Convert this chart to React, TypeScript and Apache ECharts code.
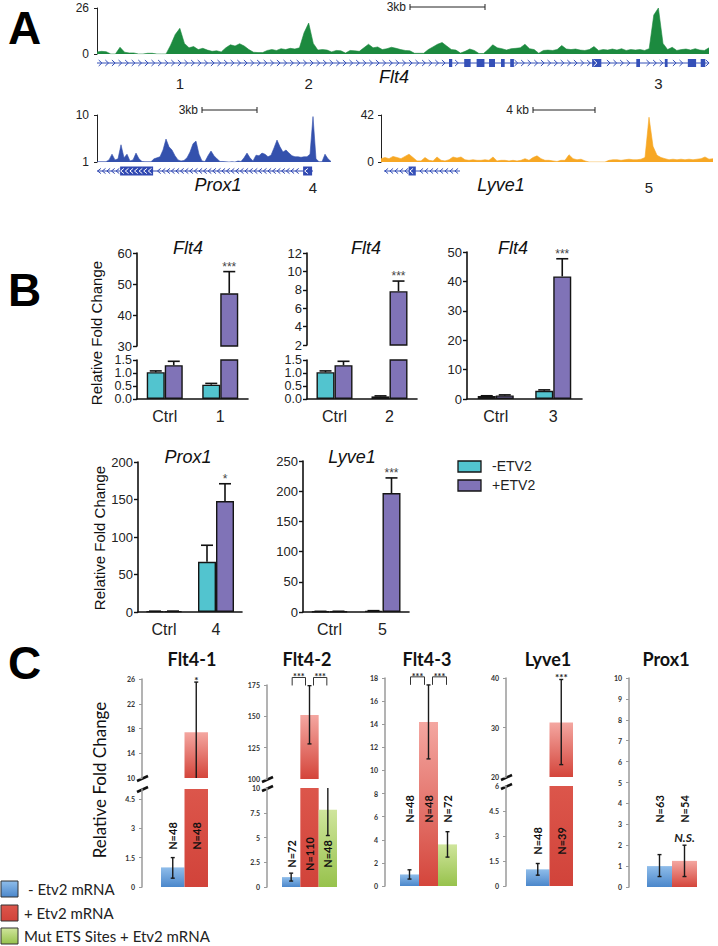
import React, { useEffect, useRef } from "react";
import * as echarts from "echarts";

const AF = "'Liberation Sans', Arial, Helvetica, sans-serif";
const CF = "Lato, 'Liberation Sans', Arial, sans-serif";

/* ---------------- Panel A: coverage tracks (bins) ---------------- */
const flt4Coverage = [
  1.2, 1.5, 1.3, 0, 0, 3.8, 1.0, 0.6, 0.6, 0,
  0, 0.4, 0.4, 0, 0, 0, 5, 11, 14.5, 6,
  3.5, 4.2, 2.5, 3.2, 2.2, 1.5, 1.8, 1.2, 3.5, 5.2,
  4.5, 5.8, 4.5, 2.5, 1, 0.8, 0.8, 2, 2.5, 2,
  3, 2.5, 3.2, 2.8, 3.5, 12, 17.5, 6, 2.2, 2.5,
  2.2, 1.2, 2.0, 1.8, 0.5, 2, 1.8, 1.5, 3.5, 5.5,
  3.5, 4, 2.5, 3, 3.8, 3.2, 2.5, 2, 1.8, 0.4,
  0.4, 0.4, 2.5, 4, 5.5, 6.5, 4.5, 2.5, 2.2, 0.5,
  1.5, 2.8, 2, 0.3, 0.3, 2.5, 5.2, 3.5, 3, 2.2,
  3, 3.2, 3.5, 5.5, 3, 2.5, 0.4, 2, 2.2, 2,
  2.5, 4.8, 2.8, 2.5, 2.8, 2.2, 2, 2.5, 4.2, 2,
  2.5, 2.2, 2.8, 2.2, 3, 2, 2.5, 2.2, 2.5, 2,
  3, 22, 26, 6, 2.5, 3.8, 2, 2.5, 2.8, 2.2,
  3, 2.2, 2, 3.5,
];
const prox1Coverage = [
  1.06, 1.06, 1.06, 1.06,
  1.4, 2.5, 1.4, 1.6, 4.3, 1.8, 2.5, 1.2, 1.4, 2.7,
  1.6, 1.1, 1.06, 1.06, 1.06, 1.6, 1.8, 2.0, 3.3, 5.4,
  3.9, 3.3, 2.2, 1.4, 1.2, 1.3, 1.8, 2.9, 4.5, 5.0,
  2.5, 1.2, 1.1, 2.2, 3.1, 2.2, 1.6, 1.1, 1.1, 1.04,
  1, 1.06, 1, 1.2, 1.1, 1.8, 2.7, 1.8, 1.2, 2.3,
  2.2, 2.7, 2.5, 2.0, 2.3, 3.7, 5.2, 3.9, 2.9, 3.3,
  2.7, 2.2, 2.0, 2.0, 1.9, 2.0, 2.0, 2.5, 9.7, 1.6,
  1.06, 1.06, 2.5, 1.6, 1.1,
];
const lyve1Coverage = [
  3, 4, 3, 5, 4, 3, 5, 7, 4, 1,
  1, 4, 1.5, 1, 4.5, 1.5, 1, 2, 4.5, 3.5,
  4.5, 2, 1.5, 2, 1.5, 1.5, 2, 1.5, 4.5, 1,
  1.5, 1.5, 1, 1.5, 1, 1.5, 3, 1.5, 4, 5.5,
  3, 1.5, 1.5, 1, 0.5, 1.5, 1.5, 6.5, 3, 2,
  2.5, 1, 0, 0, 0, 0, 0, 1.5, 2, 2,
  1.5, 2, 2.5, 2, 2, 2.5, 4, 40, 14, 6,
  4, 3, 2, 2.5, 2, 2.5, 2, 2.5, 2, 2.5,
  3, 4.5, 2.5, 3,
];
const flt4GeneSpan = [0, 133];
const flt4Exons = [
  [76.5, 77.2], [79.8, 81.2], [82.5, 84.2], [85.2, 86.5], [87.8, 88.6], [89.8, 90.6],
  [107.6, 109.6], [117.2, 118], [123.4, 124], [128.4, 130.2], [131.2, 132.2],
];
const prox1GeneSpan = [0, 72];
const prox1Exons = [[7.7, 18.7], [68.7, 71.7]];
const lyve1GeneSpan = [0.75, 19.75];
const lyve1Exons = [[6.9, 8.7]];
const flt4RegionBins = [18, 46, 122];
const flt4RegionNames = ["1", "2", "3"];
const prox1RegionBins = [72];
const prox1RegionNames = ["4"];
const lyve1RegionBins = [67];
const lyve1RegionNames = ["5"];

/* ---------------- Panel B: qPCR ---------------- */
const bLegend = ["-ETV2", "+ETV2"];
const b1Cats = ["Ctrl", "1"];
const b1Minus = [1.03, 0.55];
const b1MinusTop = [1.08, 0.6];
const b1Plus = [1.3, 47.0];
const b1PlusTop = [1.45, 54.0];
const b1Sig = ["", "***"];
const b2Cats = ["Ctrl", "2"];
const b2Minus = [1.03, 0.1];
const b2MinusTop = [1.08, 0.12];
const b2Plus = [1.3, 7.85];
const b2PlusTop = [1.45, 8.95];
const b2Sig = ["", "***"];
const b3Cats = ["Ctrl", "3"];
const b3Minus = [1.0, 2.8];
const b3MinusTop = [1.1, 3.1];
const b3Plus = [1.2, 41.7];
const b3PlusTop = [1.4, 47.7];
const b3Sig = ["", "***"];
const b4Cats = ["Ctrl", "4"];
const b4Minus = [1.0, 67];
const b4MinusTop = [1.1, 89];
const b4Plus = [1.0, 148];
const b4PlusTop = [1.2, 171];
const b4Sig = ["", "*"];
const b5Cats = ["Ctrl", "5"];
const b5Minus = [1.0, 2.0];
const b5MinusTop = [1.1, 2.2];
const b5Plus = [1.0, 197];
const b5PlusTop = [1.2, 222];
const b5Sig = ["", "***"];

/* ---------------- Panel C: embryo reporter ---------------- */
const cLegend = ["- Etv2 mRNA", "+ Etv2 mRNA", "Mut ETS Sites + Etv2 mRNA"];
const c1Groups = [0, 1];
const c1Values = [1.0, 17.4];
const c1Lo = [0.45, 9.4];
const c1Hi = [1.5, 25.5];
const c1N = [48, 48];
const c1Sig = ["", "*"];
const c2Groups = [0, 1, 2];
const c2Values = [1.0, 151, 7.8];
const c2Lo = [0.6, 128, 5.2];
const c2Hi = [1.4, 174.5, 10.4];
const c2N = [72, 110, 48];
const c2Brackets = [[0, 1], [1, 2]];
const c3Groups = [0, 1, 2];
const c3Values = [1.0, 14.2, 3.6];
const c3Lo = [0.6, 11.0, 2.5];
const c3Hi = [1.4, 17.4, 4.7];
const c3N = [48, 48, 72];
const c3Brackets = [[0, 1], [1, 2]];
const c4Groups = [0, 1];
const c4Values = [1.0, 31.0];
const c4Lo = [0.65, 22.5];
const c4Hi = [1.35, 39.7];
const c4N = [48, 39];
const c4Sig = ["", "***"];
const c5Groups = [0, 1];
const c5Values = [1.0, 1.25];
const c5Lo = [0.5, 0.5];
const c5Hi = [1.55, 2.0];
const c5N = [63, 54];
const c5Sig = ["", "N.S."];

const CYAN = "#52c4cf";
const PURPLE = "#8073b7";
const C_COL = [
  ["#8fbdea", "#4b87cb"],
  ["#f4a7a1", "#d4453b"],
  ["#cfe59c", "#97c24c"],
];
const C_RED_LOW = ["#dc564b", "#d1433a"];

const grad = (c: string[]) => ({
  type: "linear", x: 0, y: 0, x2: 0, y2: 1,
  colorStops: [{ offset: 0, color: c[0] }, { offset: 1, color: c[1] }],
});

function buildOption() {
  const grids: any[] = [];
  const xAxes: any[] = [];
  const yAxes: any[] = [];
  const series: any[] = [];
  const graphic: any[] = [];

  const add = (g: any, x: any, y: any) => {
    const i = grids.length;
    grids.push({ ...g, outerBoundsMode: "none", containLabel: false });
    xAxes.push({ ...x, gridIndex: i });
    yAxes.push({ ...y, gridIndex: i });
    return i;
  };

  /* ---------- tracks ---------- */
  const addTrack = (o: any) => {
    const gi = add(
      { left: o.left, top: o.top, width: o.width, height: o.height },
      { type: "value", min: 0, max: o.data.length - 1, show: false },
      {
        type: "value", min: o.min, max: o.max, interval: o.max - o.min, offset: o.offset,
        axisLine: { show: true, lineStyle: { color: "#222", width: 1 } },
        axisTick: { show: true, length: 3, lineStyle: { color: "#222", width: 1 } },
        axisLabel: { fontSize: 12, color: "#222", fontFamily: AF, margin: 5 },
        splitLine: { show: false },
      }
    );
    series.push({
      type: "line", xAxisIndex: gi, yAxisIndex: gi, silent: true,
      data: o.data.map((v: number, i: number) => [i, v]),
      symbol: "none", lineStyle: { color: o.color, width: 0.6 },
      areaStyle: { color: o.color, opacity: 1, origin: "start" },
    });
    const yMin = o.min;
    series.push({
      type: "custom", xAxisIndex: gi, yAxisIndex: gi, silent: true,
      data: o.exons.map((e: number[]) => [e[0], e[1]]),
      renderItem: (p: any, api: any) => {
        const a = api.coord([api.value(0), yMin]);
        const b = api.coord([api.value(1), yMin]);
        const y = a[1] + o.geneGap;
        return {
          type: "rect",
          shape: { x: a[0], y: y - o.exonH / 2, width: Math.max(1.5, b[0] - a[0]), height: o.exonH },
          style: { fill: o.geneColor },
        };
      },
    });
    series.push({
      type: "custom", xAxisIndex: gi, yAxisIndex: gi, silent: true, z: 4,
      data: [o.span],
      renderItem: (p: any, api: any) => {
        const a = api.coord([api.value(0), yMin]);
        const b = api.coord([api.value(1), yMin]);
        const y = a[1] + o.geneGap;
        const ex = o.exons.map((e: number[]) => [api.coord([e[0], yMin])[0], api.coord([e[1], yMin])[0]]);
        const children: any[] = [
          { type: "line", shape: { x1: a[0], y1: y, x2: b[0], y2: y }, style: { stroke: o.geneColor, lineWidth: 1 } },
        ];
        const d = o.strand;
        const h = o.chevH;
        for (let x = a[0] + o.chevSp / 2; x < b[0] - 1; x += o.chevSp) {
          const inside = ex.some((e: number[]) => x - 2 >= e[0] && x + 2 <= e[1]);
          const near = ex.some((e: number[]) => x + 2 > e[0] && x - 2 < e[1]);
          if (near && !inside) continue;
          children.push({
            type: "polyline",
            shape: { points: [[x - 1.6 * d, y - h], [x + 1.6 * d, y], [x - 1.6 * d, y + h]] },
            style: { stroke: inside ? "#ffffff" : o.geneColor, lineWidth: 1, fill: null },
          });
        }
        return { type: "group", children };
      },
    });
    series.push({
      type: "custom", xAxisIndex: gi, yAxisIndex: gi, silent: true, z: 10,
      data: o.regionBins.map((b: number) => [b, yMin]),
      renderItem: (p: any, api: any) => {
        const c = api.coord([api.value(0), yMin]);
        return {
          type: "text", x: c[0], y: c[1] + o.labelGap,
          style: {
            text: o.regionNames[p.dataIndex], fill: "#222", fontSize: 15, fontFamily: AF,
            align: "center", verticalAlign: "middle", textAlign: "center", textVerticalAlign: "middle",
          },
        };
      },
    });
  };

  addTrack({
    left: 97, top: 8, width: 612, height: 46, data: flt4Coverage, min: 0, max: 26, offset: 3,
    color: "#1c8a3f", geneColor: "#3550b8", span: flt4GeneSpan, exons: flt4Exons, strand: 1,
    geneGap: 9, exonH: 8, chevSp: 6.6, chevH: 3, regionBins: flt4RegionBins, regionNames: flt4RegionNames, labelGap: 29,
  });
  addTrack({
    left: 97, top: 115, width: 234, height: 47, data: prox1Coverage, min: 1, max: 10, offset: 3,
    color: "#3451ad", geneColor: "#3149b2", span: prox1GeneSpan, exons: prox1Exons, strand: -1,
    geneGap: 9, exonH: 9, chevSp: 4.6, chevH: 2.6, regionBins: prox1RegionBins, regionNames: prox1RegionNames, labelGap: 25,
  });
  addTrack({
    left: 381, top: 115, width: 332, height: 47, data: lyve1Coverage, min: 0, max: 42, offset: 2,
    color: "#f7a724", geneColor: "#3550b8", span: lyve1GeneSpan, exons: lyve1Exons, strand: -1,
    geneGap: 9, exonH: 9, chevSp: 5, chevH: 2.6, regionBins: lyve1RegionBins, regionNames: lyve1RegionNames, labelGap: 25,
  });

  /* ---------- panel B ---------- */
  const BW = 18;
  const addB = (o: any) => {
    o.segs.forEach((s: any, k: number) => {
      const isBottom = k === o.segs.length - 1;
      const isTop = k === 0;
      const gi = add(
        { left: o.left, width: o.width, top: s.top, height: s.height },
        {
          type: "category", data: o.cats, show: isBottom,
          axisLine: { lineStyle: { color: "#111", width: 1.6 } },
          axisTick: { alignWithLabel: true, length: 4, lineStyle: { color: "#111", width: 1.4 } },
          axisLabel: { fontSize: 16, color: "#222", fontFamily: AF, margin: 9 },
        },
        {
          type: "value", min: s.min, max: s.max, interval: s.interval,
          axisLine: { show: true, lineStyle: { color: "#111", width: 1.6 } },
          axisTick: { show: true, length: 4, lineStyle: { color: "#111", width: 1.4 } },
          axisLabel: {
            fontSize: s.fs || 13, lineHeight: s.fs ? 11 : 15, color: "#222", fontFamily: AF, margin: 5,
            formatter: (v: number) => v.toFixed(s.digits),
          },
          splitLine: { show: false },
        }
      );
      series.push({
        type: "bar", name: bLegend[0], xAxisIndex: gi, yAxisIndex: gi, silent: true, data: o.minus,
        barWidth: BW, barGap: "0%", itemStyle: { color: CYAN, borderColor: "#151515", borderWidth: 1.4 },
      });
      series.push({
        type: "bar", name: bLegend[1], xAxisIndex: gi, yAxisIndex: gi, silent: true, data: o.plus,
        barWidth: BW, barGap: "0%", itemStyle: { color: PURPLE, borderColor: "#151515", borderWidth: 1.4 },
      });
      series.push({
        type: "custom", xAxisIndex: gi, yAxisIndex: gi, silent: true, clip: true, z: 5,
        data: [
          ...o.minus.map((m: number, i: number) => [i, 0, m, o.minusTop[i]]),
          ...o.plus.map((m: number, i: number) => [i, 1, m, o.plusTop[i]]),
        ],
        renderItem: (p: any, api: any) => {
          const ci = api.value(0);
          const side = api.value(1);
          const m = api.coord([ci, api.value(2)]);
          const t = api.coord([ci, api.value(3)]);
          const x = m[0] + (side === 0 ? -BW / 2 : BW / 2);
          const st = { stroke: "#111", lineWidth: 1.6 };
          return {
            type: "group",
            children: [
              { type: "line", shape: { x1: x, y1: m[1], x2: x, y2: t[1] }, style: st },
              { type: "line", shape: { x1: x - 6, y1: t[1], x2: x + 6, y2: t[1] }, style: st },
            ],
          };
        },
      });
      if (isTop) {
        series.push({
          type: "custom", xAxisIndex: gi, yAxisIndex: gi, silent: true, z: 10,
          data: o.plus.map((m: number, i: number) => [i, o.plusTop[i]]),
          renderItem: (p: any, api: any) => {
            const txt = o.sig[p.dataIndex];
            if (!txt) return { type: "group", children: [] };
            const c = api.coord([api.value(0), api.value(1)]);
            return {
              type: "text", x: c[0] + BW / 2, y: c[1] + 1,
              style: {
                text: txt, fill: "#444", fontSize: 12, fontFamily: AF,
                align: "center", verticalAlign: "bottom", textAlign: "center", textVerticalAlign: "bottom",
              },
            };
          },
        });
      }
    });
  };

  const lowSeg = { top: 360, height: 39, min: 0, max: 1.5, interval: 0.5, digits: 1, fs: 12.5 };
  addB({
    left: 137, width: 111, cats: b1Cats, minus: b1Minus, minusTop: b1MinusTop, plus: b1Plus, plusTop: b1PlusTop, sig: b1Sig,
    segs: [{ top: 253, height: 93, min: 30, max: 60, interval: 10, digits: 0 }, lowSeg],
  });
  addB({
    left: 307, width: 110, cats: b2Cats, minus: b2Minus, minusTop: b2MinusTop, plus: b2Plus, plusTop: b2PlusTop, sig: b2Sig,
    segs: [{ top: 253, height: 92, min: 2, max: 12, interval: 2, digits: 0 }, lowSeg],
  });
  addB({
    left: 467, width: 115, cats: b3Cats, minus: b3Minus, minusTop: b3MinusTop, plus: b3Plus, plusTop: b3PlusTop, sig: b3Sig,
    segs: [{ top: 252, height: 147, min: 0, max: 50, interval: 10, digits: 0 }],
  });
  addB({
    left: 138, width: 104, cats: b4Cats, minus: b4Minus, minusTop: b4MinusTop, plus: b4Plus, plusTop: b4PlusTop, sig: b4Sig,
    segs: [{ top: 462, height: 150, min: 0, max: 200, interval: 50, digits: 0 }],
  });
  addB({
    left: 303, width: 106, cats: b5Cats, minus: b5Minus, minusTop: b5MinusTop, plus: b5Plus, plusTop: b5PlusTop, sig: b5Sig,
    segs: [{ top: 461, height: 151, min: 0, max: 250, interval: 50, digits: 0 }],
  });

  /* ---------- panel C ---------- */
  const addC = (o: any) => {
    const broken = o.segs.length > 1;
    o.segs.forEach((s: any, k: number) => {
      const isBottom = k === o.segs.length - 1;
      const isTop = k === 0;
      const gi = add(
        { left: o.left, width: o.width, top: s.top, height: s.height },
        { type: "category", data: o.groups.map((g: number) => cLegend[g]), show: false },
        {
          type: "value", min: s.min, max: s.max, offset: o.offset,
          axisLine: { show: true, lineStyle: { color: "#9a9a9a", width: 1.5 } },
          axisTick: { show: true, length: 3, customValues: s.ticks, lineStyle: { color: "#9a9a9a", width: 1 } },
          axisLabel: {
            customValues: s.ticks, fontSize: 7, fontWeight: "bold", color: "#333", fontFamily: CF, margin: 7,
          },
          splitLine: { show: false },
        }
      );
      series.push({
        type: "bar", xAxisIndex: gi, yAxisIndex: gi, silent: true, barCategoryGap: "0%", z: 2,
        data: o.values.map((v: number, i: number) => ({
          value: v,
          itemStyle: {
            color: grad(broken && isBottom && o.groups[i] === 1 ? C_RED_LOW : C_COL[o.groups[i]]),
          },
        })),
      });
      series.push({
        type: "custom", xAxisIndex: gi, yAxisIndex: gi, silent: true, clip: true, z: 5,
        data: o.values.map((v: number, i: number) => [i, o.lo[i], o.hi[i]]),
        renderItem: (p: any, api: any) => {
          const i = api.value(0);
          const l = api.coord([i, api.value(1)]);
          const h = api.coord([i, api.value(2)]);
          const x = l[0];
          const st = { stroke: "#1a1a1a", lineWidth: 1.4 };
          return {
            type: "group",
            children: [
              { type: "line", shape: { x1: x, y1: l[1], x2: x, y2: h[1] }, style: st },
              { type: "line", shape: { x1: x - 2, y1: l[1], x2: x + 2, y2: l[1] }, style: st },
              { type: "line", shape: { x1: x - 2, y1: h[1], x2: x + 2, y2: h[1] }, style: st },
            ],
          };
        },
      });
      if (isBottom) {
        series.push({
          type: "custom", xAxisIndex: gi, yAxisIndex: gi, silent: true, z: 10,
          data: o.N.map((n: number, i: number) => [i, n]),
          renderItem: (p: any, api: any) => {
            const c = api.coord([api.value(0), o.nAt]);
            return {
              type: "text", x: c[0], y: c[1], rotation: Math.PI / 2, z2: 100,
              style: {
                text: "N=" + o.N[p.dataIndex], fill: "#111", fontSize: 11, fontWeight: "bold", fontFamily: CF,
                align: "center", verticalAlign: "middle", textAlign: "center", textVerticalAlign: "middle",
              },
            };
          },
        });
      }
      if (isTop && o.sig) {
        series.push({
          type: "custom", xAxisIndex: gi, yAxisIndex: gi, silent: true, z: 10,
          data: o.hi.map((h: number, i: number) => [i, h]),
          renderItem: (p: any, api: any) => {
            const txt = o.sig[p.dataIndex];
            if (!txt) return { type: "group", children: [] };
            const c = api.coord([api.value(0), api.value(1)]);
            const star = txt[0] === "*";
            return {
              type: "text", x: c[0], y: star ? c[1] + 3 : c[1] - 2,
              style: {
                text: txt, fill: "#222", fontSize: star ? 10 : 12, fontWeight: "bold",
                fontStyle: star ? "normal" : "italic", fontFamily: CF,
                align: "center", verticalAlign: "bottom", textAlign: "center", textVerticalAlign: "bottom",
              },
            };
          },
        });
      }
      if (isTop && o.brackets) {
        series.push({
          type: "custom", xAxisIndex: gi, yAxisIndex: gi, silent: true, z: 10,
          data: o.brackets.map((b: number[]) => [b[0], b[1]]),
          renderItem: (p: any, api: any) => {
            const k2 = p.dataIndex;
            const pa = api.coord([api.value(0), o.bracketAt]);
            const pb = api.coord([api.value(1), o.bracketAt]);
            const x1 = pa[0] + 1 + 3 * k2;
            const x2 = pb[0] - 4 + 3 * k2;
            const y = pa[1];
            return {
              type: "group",
              children: [
                {
                  type: "polyline", shape: { points: [[x1, y + 8], [x1, y], [x2, y], [x2, y + 8]] },
                  style: { stroke: "#333", lineWidth: 1, fill: null },
                },
                {
                  type: "text", x: (x1 + x2) / 2, y: y + 4,
                  style: {
                    text: "***", fill: "#222", fontSize: 9, fontWeight: "bold", fontFamily: CF,
                    align: "center", verticalAlign: "bottom", textAlign: "center", textVerticalAlign: "bottom",
                  },
                },
              ],
            };
          },
        });
      }
    });
    if (broken) {
      const ax = o.left - o.offset;
      const gt = o.segs[0].top + o.segs[0].height;
      const gb = o.segs[1].top;
      [gt, gb].forEach((yy: number) => {
        graphic.push({
          type: "line", shape: { x1: ax - 5, y1: yy + 3, x2: ax + 6, y2: yy - 2 },
          style: { stroke: "#111", lineWidth: 2.5 },
        });
      });
    }
  };

  addC({
    left: 161, width: 47, offset: 19, groups: c1Groups, values: c1Values, lo: c1Lo, hi: c1Hi, N: c1N, nAt: 2.6, sig: c1Sig,
    segs: [
      { top: 679, height: 99, min: 10, max: 26, ticks: [10, 14, 18, 22, 26] },
      { top: 789, height: 98, min: 0, max: 5, ticks: [0, 1.5, 3, 4.5] },
    ],
  });
  addC({
    left: 282, width: 55, offset: 15, groups: c2Groups, values: c2Values, lo: c2Lo, hi: c2Hi, N: c2N, nAt: 3.33,
    brackets: c2Brackets, bracketAt: 181,
    segs: [
      { top: 685, height: 94, min: 100, max: 175, ticks: [100, 125, 150, 175] },
      { top: 788, height: 99, min: 0, max: 10, ticks: [0, 2.5, 5, 7.5, 10] },
    ],
  });
  addC({
    left: 400, width: 57, offset: 15, groups: c3Groups, values: c3Values, lo: c3Lo, hi: c3Hi, N: c3N, nAt: 6.66,
    brackets: c3Brackets, bracketAt: 18.1,
    segs: [{ top: 678, height: 208, min: 0, max: 18, ticks: [0, 2, 4, 6, 8, 10, 12, 14, 16, 18] }],
  });
  addC({
    left: 526, width: 47, offset: 20, groups: c4Groups, values: c4Values, lo: c4Lo, hi: c4Hi, N: c4N, nAt: 2.7, sig: c4Sig,
    segs: [
      { top: 678, height: 99, min: 20, max: 40, ticks: [20, 30, 40] },
      { top: 786, height: 100, min: 0, max: 6, ticks: [0, 1.5, 3, 4.5, 6] },
    ],
  });
  addC({
    left: 647, width: 50, offset: 18, groups: c5Groups, values: c5Values, lo: c5Lo, hi: c5Hi, N: c5N, nAt: 3.73, sig: c5Sig,
    segs: [{ top: 678, height: 209, min: 0, max: 10, ticks: [0, 1, 2, 3, 4, 5, 6, 7, 8, 9, 10] }],
  });

  /* ---------- static texts ---------- */
  const txt = (text: string, x: number, y: number, font: string, extra: any = {}) => ({
    type: "text", x, y, silent: true, rotation: extra.rotation || 0,
    style: {
      text, font, fill: extra.fill || "#111",
      textAlign: extra.align || "center", textVerticalAlign: "middle",
      align: extra.align || "center", verticalAlign: "middle",
    },
  });
  graphic.push(txt("A", 8, 28, `bold 46px ${AF}`, { align: "left", fill: "#000" }));
  graphic.push(txt("B", 8, 290, `bold 46px ${AF}`, { align: "left", fill: "#000" }));
  graphic.push(txt("C", 8, 663, `bold 46px ${AF}`, { align: "left", fill: "#000" }));

  const scaleBar = (label: string, x1: number, x2: number, y: number) => {
    graphic.push({ type: "line", shape: { x1, y1: y, x2, y2: y }, style: { stroke: "#222", lineWidth: 1 } });
    graphic.push({ type: "line", shape: { x1, y1: y - 3, x2: x1, y2: y + 3 }, style: { stroke: "#222", lineWidth: 1 } });
    graphic.push({ type: "line", shape: { x1: x2, y1: y - 3, x2, y2: y + 3 }, style: { stroke: "#222", lineWidth: 1 } });
    graphic.push(txt(label, x1 - 4, y, `12px ${AF}`, { align: "right", fill: "#222" }));
  };
  scaleBar("3kb", 410, 485, 7);
  scaleBar("3kb", 202, 257, 110);
  scaleBar("4 kb", 533, 595, 110);
  graphic.push(txt("Flt4", 394, 77, `italic 18px ${AF}`));
  graphic.push(txt("Prox1", 218, 185, `italic 18px ${AF}`));
  graphic.push(txt("Lyve1", 501, 185, `italic 18px ${AF}`));

  graphic.push(txt("Flt4", 188, 248, `italic 18px ${AF}`));
  graphic.push(txt("Flt4", 366, 248, `italic 18px ${AF}`));
  graphic.push(txt("Flt4", 513, 248, `italic 18px ${AF}`));
  graphic.push(txt("Prox1", 188, 457, `italic 18px ${AF}`));
  graphic.push(txt("Lyve1", 352, 457, `italic 18px ${AF}`));
  graphic.push(txt("Relative Fold Change", 96, 333, `15px ${AF}`, { rotation: Math.PI / 2 }));
  graphic.push(txt("Relative Fold Change", 99, 538, `15px ${AF}`, { rotation: Math.PI / 2 }));

  // legend B
  [CYAN, PURPLE].forEach((c, i) => {
    graphic.push({
      type: "rect", shape: { x: 458, y: 461 + i * 19, width: 23, height: 11 },
      style: { fill: c, stroke: "#151515", lineWidth: 1.3 },
    });
    graphic.push(txt(bLegend[i], 492, 466 + i * 19, `14px ${AF}`, { align: "left", fill: "#222" }));
  });

  // panel C titles & legend
  graphic.push(txt("Flt4-1", 192, 659, `bold 18px ${CF}`));
  graphic.push(txt("Flt4-2", 307, 659, `bold 18px ${CF}`));
  graphic.push(txt("Flt4-3", 427, 659, `bold 18px ${CF}`));
  graphic.push(txt("Lyve1", 548, 659, `bold 18px ${CF}`));
  graphic.push(txt("Prox1", 666, 659, `bold 18px ${CF}`));
  graphic.push(txt("Relative Fold Change", 99, 780, `17px ${CF}`, { rotation: Math.PI / 2 }));
  const legY = [889, 913, 936];
  const legX = [28, 24, 24];
  C_COL.forEach((c, i) => {
    graphic.push({
      type: "rect", shape: { x: 1, y: legY[i] - 8, width: 17, height: 16 },
      style: { fill: grad(i === 1 ? C_RED_LOW : c), stroke: "#333", lineWidth: 1 },
    });
    graphic.push(txt(cLegend[i], legX[i], legY[i], `15px ${CF}`, { align: "left", fill: "#222" }));
  });

  return {
    animation: false,
    backgroundColor: "#ffffff",
    textStyle: { fontFamily: AF },
    grid: grids,
    xAxis: xAxes,
    yAxis: yAxes,
    series,
    graphic,
  };
}

export default function App() {
  const ref = useRef<HTMLDivElement>(null);
  useEffect(() => {
    const chart = echarts.init(ref.current as HTMLDivElement, undefined, { renderer: "svg" });
    chart.setOption(buildOption() as any);
    return () => chart.dispose();
  }, []);
  return (
    <div
      ref={ref}
      style={{ position: "absolute", left: 0, top: 0, width: 718, height: 946, background: "#fff" }}
    />
  );
}
